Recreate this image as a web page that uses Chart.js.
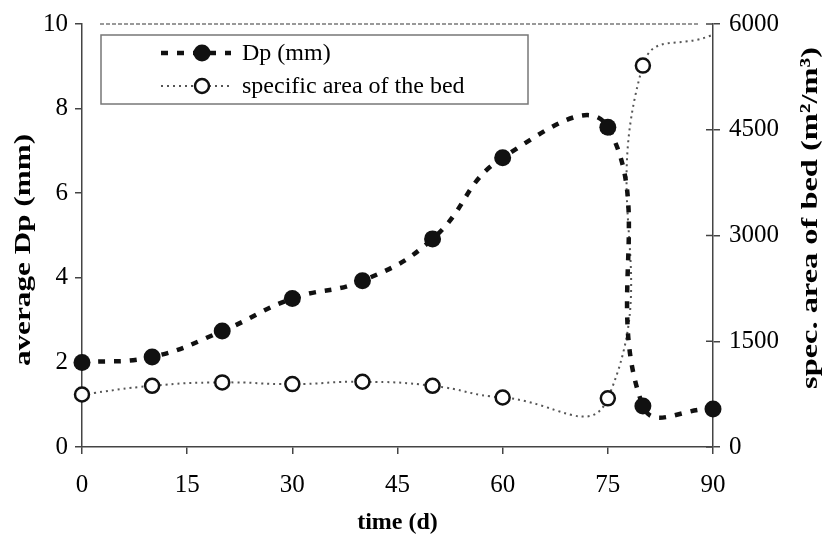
<!DOCTYPE html>
<html>
<head>
<meta charset="utf-8">
<script src="https://cdn.jsdelivr.net/npm/chart.js@4.4.1/dist/chart.umd.min.js"></script>
<style>
  body { margin: 0; background: #fff; }
</style>
</head>
<body>
<canvas id="bedChart" width="830" height="542"></canvas>
<script>
// data
var days = [0, 10, 20, 30, 40, 50, 60, 75, 80, 90];
var dpValues = [2.0, 2.13, 2.74, 3.51, 3.93, 4.92, 6.84, 7.56, 0.97, 0.9];
var areaValues = [745, 868, 916, 892, 925, 868, 702, 690, 5410, 5850];
var dayTicks = [0, 15, 30, 45, 60, 75, 90];
var dpTicks = [0, 2, 4, 6, 8, 10];
var areaTicks = [0, 1500, 3000, 4500, 6000];

var serif = "'Liberation Serif', 'Times New Roman', serif";
Chart.defaults.font.family = serif;
Chart.defaults.color = '#000';

function toPoints(ys) {
    return days.map(function (d, i) { return { x: d, y: ys[i] }; });
}
function setTicks(list) {
    return function (scale) {
        scale.ticks = list.map(function (v) { return { value: v }; });
    };
}
function plain(v) { return String(v); }

// legend box, axis titles and the bits of frame Chart.js doesn't draw
var decorations = {
    id: 'decorations',
    afterDraw: function (chart) {
        var ctx = chart.ctx;
        var area = chart.chartArea;
        ctx.save();

        // faint dotted top frame
        ctx.strokeStyle = '#999';
        ctx.lineWidth = 2;
        ctx.setLineDash([4, 2]);
        ctx.beginPath();
        ctx.moveTo(area.left + 18, area.top);
        ctx.lineTo(area.right - 15, area.top);
        ctx.stroke();
        ctx.setLineDash([]);

        // right axis ticks cross the axis line
        var y1 = chart.scales.y1;
        ctx.strokeStyle = '#444';
        ctx.lineWidth = 1.5;
        y1.ticks.forEach(function (t) {
            var py = y1.getPixelForValue(t.value);
            ctx.beginPath();
            ctx.moveTo(area.right - 7, py);
            ctx.lineTo(area.right, py);
            ctx.stroke();
        });

        // legend
        var bx = area.left + 19, by = area.top + 11, bw = 427, bh = 69;
        ctx.fillStyle = '#fff';
        ctx.fillRect(bx, by, bw, bh);
        ctx.strokeStyle = '#777';
        ctx.lineWidth = 1.5;
        ctx.strokeRect(bx, by, bw, bh);

        var ds = chart.data.datasets;
        var rows = [by + 18, by + 51];
        ctx.font = '24px ' + serif;
        ctx.textBaseline = 'middle';
        ctx.textAlign = 'left';
        ds.forEach(function (set, i) {
            var ry = rows[i];
            ctx.strokeStyle = set.borderColor;
            ctx.lineWidth = set.borderWidth;
            ctx.setLineDash(set.borderDash);
            ctx.beginPath();
            ctx.moveTo(bx + 60, ry);
            ctx.lineTo(bx + 130, ry);
            ctx.stroke();
            ctx.setLineDash([]);
            ctx.beginPath();
            ctx.arc(bx + 101, ry, i === 0 ? 8.5 : 7, 0, Math.PI * 2);
            ctx.fillStyle = set.pointBackgroundColor;
            ctx.fill();
            if (set.pointBorderWidth) {
                ctx.lineWidth = set.pointBorderWidth;
                ctx.strokeStyle = set.pointBorderColor;
                ctx.stroke();
            }
            ctx.fillStyle = '#000';
            ctx.fillText(set.label, bx + 141, ry + 1);
        });

        // axis titles, stretched like the scanned original
        ctx.font = 'bold 24px ' + serif;
        ctx.fillStyle = '#000';
        ctx.textAlign = 'center';
        ctx.textBaseline = 'middle';
        ctx.fillText('time (d)', (area.left + area.right) / 2, 523);

        ctx.save();
        ctx.translate(24, 250);
        ctx.rotate(-Math.PI / 2);
        ctx.scale(1.3, 1);
        ctx.fillText('average Dp (mm)', 0, 0);
        ctx.restore();

        ctx.save();
        ctx.translate(811, 218);
        ctx.rotate(-Math.PI / 2);
        ctx.scale(1.35, 1);
        ctx.fillText('spec. area of bed (m\u00B2/m\u00B3)', 0, 0);
        ctx.restore();

        ctx.restore();
    }
};

var ctx = document.getElementById('bedChart').getContext('2d');
new Chart(ctx, {
    type: 'line',
    data: {
        datasets: [{
            label: 'Dp (mm)',
            data: toPoints(dpValues),
            yAxisID: 'y',
            borderColor: '#111',
            borderWidth: 4.5,
            borderDash: [7, 9],
            tension: 0.45,
            pointRadius: 8.5,
            pointBackgroundColor: '#111',
            pointBorderWidth: 0,
            clip: false,
            order: 1
        }, {
            label: 'specific area of the bed',
            data: toPoints(areaValues),
            yAxisID: 'y1',
            borderColor: '#555',
            borderWidth: 2,
            borderDash: [2, 4],
            tension: 0.5,
            pointRadius: function (c) { return c.dataIndex === days.length - 1 ? 0 : 7; },
            pointBackgroundColor: '#fff',
            pointBorderColor: '#111',
            pointBorderWidth: 2.5,
            clip: false,
            order: 2
        }]
    },
    options: {
        responsive: false,
        animation: false,
        layout: { padding: { top: 20, left: 0, right: 0, bottom: 0 } },
        plugins: {
            legend: { display: false },
            tooltip: { enabled: false }
        },
        scales: {
            x: {
                type: 'linear',
                min: 0,
                max: 90,
                afterBuildTicks: setTicks(dayTicks),
                afterFit: function (s) { s.height = 95; },
                grid: { drawOnChartArea: false, color: '#444', tickLength: 7, lineWidth: 1.5 },
                border: { color: '#444', width: 1.5 },
                ticks: { font: { size: 25 }, padding: 16, maxRotation: 0, callback: plain }
            },
            y: {
                position: 'left',
                min: 0,
                max: 10,
                afterBuildTicks: setTicks(dpTicks),
                afterFit: function (s) { s.width = 82; },
                grid: { drawOnChartArea: false, color: '#444', tickLength: 7, lineWidth: 1.5 },
                border: { color: '#444', width: 1.5 },
                ticks: { font: { size: 25 }, padding: 7, callback: plain }
            },
            y1: {
                position: 'right',
                min: 0,
                max: 6000,
                afterBuildTicks: setTicks(areaTicks),
                afterFit: function (s) { s.width = 117; },
                grid: { drawOnChartArea: false, color: '#444', tickLength: 7, lineWidth: 1.5 },
                border: { color: '#444', width: 1.5 },
                ticks: { font: { size: 25 }, padding: 9, callback: plain }
            }
        }
    },
    plugins: [decorations]
});
</script>
</body>
</html>
